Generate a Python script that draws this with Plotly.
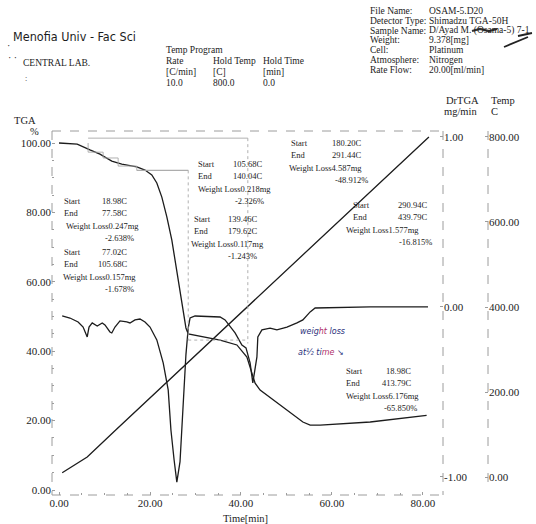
import plotly.graph_objects as go

# ---------------- thermogram data (time in min) ----------------
tga_time = [0.0, 4.0, 6.8, 9.0, 11.6, 13.8, 17.1, 18.9, 20.4, 21.5, 22.6, 23.7, 24.8,
            25.9, 26.6, 27.3, 27.9, 28.4, 31.6, 35.4, 39.1, 41.3, 42.4, 43.1, 44.2,
            47.9, 53.6, 55.2, 57.4, 68.4, 80.8]
tga_pct = [100.0, 99.7, 98.0, 96.8, 94.8, 93.9, 93.1, 92.2, 90.8, 88.5, 84.4, 78.7, 72.0,
           63.4, 57.6, 51.9, 46.7, 45.0, 44.1, 43.2, 41.8, 38.3, 33.7, 30.8, 28.8,
           25.1, 19.6, 18.7, 18.7, 19.6, 21.5]

dr_time = [0.7, 2.4, 4.2, 5.3, 6.2, 6.6, 7.3, 8.4, 9.5, 10.1, 11.2, 11.6, 12.3, 13.4,
           14.9, 15.6, 16.7, 17.8, 18.9, 20.0, 21.5, 22.9, 24.0, 24.6, 25.3, 25.9,
           26.6, 27.0, 27.5, 27.9, 28.4, 28.8, 29.9, 35.4, 36.5, 38.7, 40.2, 41.1,
           42.0, 42.6, 43.5, 43.7, 44.6, 46.4, 47.9, 50.1, 52.3, 53.6, 55.2, 56.3,
           68.4, 81.1]
dr_mg_min = [-0.053, -0.065, -0.088, -0.118, -0.176, -0.118, -0.094, -0.112, -0.094,
             -0.106, -0.147, -0.153, -0.118, -0.082, -0.088, -0.094, -0.076, -0.071,
             -0.088, -0.118, -0.194, -0.329, -0.488, -0.724, -0.90, -1.03, -0.91,
             -0.72, -0.49, -0.28, -0.124, -0.065, -0.053, -0.059, -0.076, -0.153,
             -0.224, -0.241, -0.329, -0.447, -0.294, -0.176, -0.135, -0.124, -0.135,
             -0.118, -0.094, -0.076, -0.029, -0.006, 0.0, 0.0]

temp_time = [0.7, 6.2, 12.7, 35.4, 47.9, 71.2, 81.3]
temp_c = [10, 47, 113, 340, 465, 700, 800]

# step analysis results
step_start_c = [18.98, 77.02, 105.68, 139.46, 180.20, 290.94]
step_end_c = [77.58, 105.68, 140.04, 179.62, 291.44, 439.79]
step_loss_mg = [0.247, 0.157, 0.218, 0.117, 4.587, 1.577]
step_loss_pct = [-2.638, -1.678, -2.326, -1.243, -48.912, -16.815]
total_start_c, total_end_c, total_loss_mg, total_loss_pct = 18.98, 413.79, 6.176, -65.850
step_end_time = [6.4, 9.7, 13.0, 17.1, 28.4, 41.5]

x_ticks = [0, 20, 40, 60, 80]
tga_ticks = [0, 20, 40, 60, 80, 100]
dr_ticks = [-1, 0, 1]
temp_ticks = [0, 200, 400, 600, 800]

# ---------------- page geometry ----------------
W, H = 536, 524
L, R, T, B = 52, 0, 131, 29
PW, PH = W - L - R, H - T - B
X_RIGHT = 443      # DrTGA axis
X_TEMP = 488       # temperature axis

INK = "#1c1c1c"
GREY = "#9c9c9c"
SERIF = "Liberation Serif, Times New Roman, serif"


def fx(x):
    return (x - L) / PW


def fy(y):
    return (H - B - y) / PH


fig = go.Figure()
line = dict(color=INK, width=1.3)
fig.add_trace(go.Scatter(x=tga_time, y=tga_pct, mode="lines", line=line, yaxis="y",
                         hoverinfo="skip"))
fig.add_trace(go.Scatter(x=dr_time, y=dr_mg_min, mode="lines", line=line, yaxis="y2",
                         hoverinfo="skip"))
fig.add_trace(go.Scatter(x=temp_time, y=temp_c, mode="lines", line=line, yaxis="y3",
                         hoverinfo="skip"))

tickfont = dict(family=SERIF, size=11, color=INK)
common = dict(showgrid=False, zeroline=False, showline=False, automargin=False,
              ticks="inside", ticklen=3, tickcolor=GREY, tickfont=tickfont,
              tickmode="array")

fig.update_layout(
    width=W, height=H, margin=dict(l=L, r=R, t=T, b=B, pad=0),
    paper_bgcolor="white", plot_bgcolor="white", showlegend=False,
    xaxis=dict(domain=[0, fx(X_RIGHT)], range=[-1.54, 84.4], tickvals=x_ticks,
               ticktext=[f"{v:.2f}" for v in x_ticks],
               minor=dict(ticks="inside", ticklen=2, dtick=5, tickcolor=GREY), **common),
    yaxis=dict(range=[-1.44, 103.46], tickvals=tga_ticks,
               ticktext=[f"{v:.2f}" for v in tga_ticks],
               minor=dict(ticks="inside", ticklen=2, dtick=5, tickcolor=GREY), **common),
    yaxis2=dict(overlaying="y", side="right", anchor="x", range=[-1.106, 1.035],
                tickvals=dr_ticks, ticktext=[f"{v:.2f}" for v in dr_ticks], **common),
    yaxis3=dict(overlaying="y", side="right", anchor="free", position=fx(X_TEMP),
                range=[-42.35, 814.1], tickvals=temp_ticks,
                ticktext=[f"{v:.2f}" for v in temp_ticks], **common),
)

# dashed frame and axis lines
frame = [(L, T, X_RIGHT, T), (L, H - B, X_RIGHT, H - B), (L, T, L, H - B),
         (X_RIGHT, T, X_RIGHT, H - B), (X_TEMP, T, X_TEMP, 484)]
for x0, y0, x1, y1 in frame:
    fig.add_shape(type="line", xref="paper", yref="paper", x0=fx(x0), y0=fy(y0),
                  x1=fx(x1), y1=fy(y1), line=dict(color=GREY, width=1, dash="dash"))

# step markers on the TGA curve
levels = [100.0]
for p in step_loss_pct:
    levels.append(levels[-1] + p)
mk = dict(color="#a8a8a8", width=0.9)
seg = []
for i in range(4):
    seg.append((step_end_time[i], levels[i], step_end_time[i], levels[i + 1]))
    seg.append((step_end_time[i], levels[i + 1], step_end_time[i + 1], levels[i + 1]))
seg.append((step_end_time[3], levels[4], step_end_time[4], levels[4]))
for x0, y0, x1, y1 in seg:
    fig.add_shape(type="line", xref="x", yref="y", x0=x0, y0=y0, x1=x1, y1=y1, line=mk)
dashed = dict(color="#a8a8a8", width=0.9, dash="dot")
fig.add_shape(type="line", xref="x", yref="y", x0=step_end_time[4], y0=levels[4],
              x1=step_end_time[4], y1=levels[5], line=dashed)
fig.add_shape(type="line", xref="x", yref="y", x0=step_end_time[4], y0=levels[5],
              x1=step_end_time[5], y1=levels[5], line=dashed)
fig.add_shape(type="line", xref="x", yref="y", x0=step_end_time[0], y0=101.4,
              x1=step_end_time[5], y1=101.4, line=mk)
fig.add_shape(type="line", xref="x", yref="y", x0=step_end_time[5], y0=101.4,
              x1=step_end_time[5], y1=levels[5] - 1.0, line=dashed)


def note(x, y, s, size=8.5, xanchor="left", family=SERIF, color=INK):
    fig.add_annotation(x=fx(x), y=fy(y), xref="paper", yref="paper", text=s,
                       showarrow=False, xanchor=xanchor, yanchor="middle",
                       borderpad=0, font=dict(family=family, size=size, color=color))


# step result blocks: (left x, value right x, weight-loss x, percent right x, top row y)
blocks = [(63, 128, 65, 135, 201), (63, 128, 62, 135, 252),
          (197, 263, 197, 265, 164), (193, 258, 190, 258, 219),
          (290, 362, 288, 369, 143), (352, 428, 345, 433, 205)]
for (x0, xv, xw, xp, y0), s0, s1, mg, pc in zip(blocks, step_start_c, step_end_c,
                                                 step_loss_mg, step_loss_pct):
    note(x0, y0, "Start")
    note(xv, y0, f"{s0:.2f}C", xanchor="right")
    note(x0, y0 + 12.3, "End")
    note(xv, y0 + 12.3, f"{s1:.2f}C", xanchor="right")
    note(xw, y0 + 24.6, f"Weight Loss{mg:.3f}mg")
    note(xp, y0 + 37, f"{pc:.3f}%", xanchor="right")

x0, xv, xw, xp, y0 = 345, 412, 345, 418, 371
note(x0, y0, "Start")
note(xv, y0, f"{total_start_c:.2f}C", xanchor="right")
note(x0, y0 + 12.3, "End")
note(xv, y0 + 12.3, f"{total_end_c:.2f}C", xanchor="right")
note(xw, y0 + 24.6, f"Weight Loss{total_loss_mg:.3f}mg")
note(xp, y0 + 37, f"{total_loss_pct:.3f}%", xanchor="right")

# axis captions
note(13, 120, "TGA", size=10.5)
note(29, 131, "%", size=10.5)
note(445, 100, "DrTGA", size=10.5)
note(490, 100, "Temp", size=10.5)
note(443, 112, "mg/min", size=10.5)
note(490, 112, "C", size=10.5)
note(245, 518, "Time[min]", size=10.5, xanchor="center")

# header
note(12, 36, "Menofia Univ - Fac Sci", size=12.5,
     family="Liberation Sans Narrow, DejaVu Sans Condensed, sans-serif")
note(22, 63, "CENTRAL LAB.", size=9.5)
note(6, 46, "·", size=10)
note(7, 57, "· ·", size=10)
note(24, 78, ":", size=8)
note(165, 50, "Temp Program", size=9.5)
for i, (a, b, c) in enumerate([("Rate", "Hold Temp", "Hold Time"),
                               ("[C/min]", "[C]", "[min]"),
                               ("10.0", "800.0", "0.0")]):
    note(165, 61 + 11 * i, a, size=9.5)
    note(212, 61 + 11 * i, b, size=9.5)
    note(262, 61 + 11 * i, c, size=9.5)

info = [("File Name:", "OSAM-5.D20"), ("Detector Type:", "Shimadzu TGA-50H"),
        ("Sample Name:", "D/Ayad M. (Osama-5) 7-1"), ("Weight:", "9.378[mg]"),
        ("Cell:", "Platinum"), ("Atmosphere:", "Nitrogen"), ("Rate Flow:", "20.00[ml/min]")]
for i, (k, v) in enumerate(info):
    note(369, 11 + 9.8 * i, k, size=9.5)
    note(428, 11 + 9.8 * i, v, size=9.5)

# ink marks: crossed-out name and a pen tick
fig.add_shape(type="path", xref="paper", yref="paper",
              path=f"M {fx(472)} {fy(31)} L {fx(480)} {fy(29)} L {fx(489)} {fy(31)} "
                   f"L {fx(497)} {fy(29)}", line=dict(color="#333", width=2.2))
fig.add_shape(type="path", xref="paper", yref="paper",
              path=f"M {fx(504)} {fy(47)} L {fx(528)} {fy(37)} M {fx(518)} {fy(36)} "
                   f"L {fx(532)} {fy(33)}", line=dict(color="#222", width=1.8))

# handwritten remark
HAND = "DejaVu Sans, sans-serif"
note(299, 331, "<i>weig<span style='color:#b0306a'>ht</span> loss</i>", size=8,
     family=HAND, color="#2a2f7a")
note(297, 352, "<i>at½ ti<span style='color:#b0306a'>me</span> ↘</i>", size=8,
     family=HAND, color="#2a2f7a")

fig.write_html("out.html")
